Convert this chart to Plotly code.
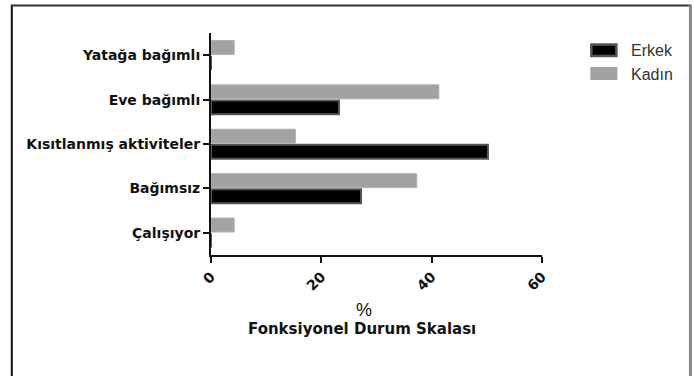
import plotly.graph_objects as go

categories = ["Çalışıyor", "Bağımsız", "Kısıtlanmış aktiviteler", "Eve bağımlı", "Yatağa bağımlı"]
erkek = [0, 27.2, 50.2, 23.2, 0]
kadin = [4.2, 37.3, 15.3, 41.3, 4.2]
x_ticks = [0, 20, 40, 60]
series_names = ["Erkek", "Kadın"]

FONT = "Liberation Sans, Arial, sans-serif"
BFONT = "DejaVu Sans, Liberation Sans, sans-serif"

ERK_FILL, ERK_LINE = "#000000", "#555555"
KAD_FILL, KAD_LINE = "#a2a2a4", "#b0b0b0"

fig = go.Figure()
fig.add_trace(go.Bar(
    y=categories, x=erkek, orientation="h", name=series_names[0],
    marker=dict(color=ERK_FILL, line=dict(color=ERK_LINE, width=2)),
))
fig.add_trace(go.Bar(
    y=categories, x=kadin, orientation="h", name=series_names[1],
    marker=dict(color=KAD_FILL, line=dict(color=KAD_LINE, width=1)),
))

W, H = 694, 376
PL, PR, PT, PB = 211, 541.7, 33, 255  # plot area in screenshot pixels
L, T = PL, PT
R = W - PR
B = H - PB
pw = PR - PL
ph = PB - PT

def px(xpix):
    return (xpix - PL) / pw

def py(ypix):
    return 1 - (ypix - PT) / ph

legend_shapes = [
    dict(type="rect", xref="paper", yref="paper", x0=px(591), x1=px(616), y0=py(44.5), y1=py(56),
         fillcolor=ERK_FILL, line=dict(color=ERK_LINE, width=2.5)),
    dict(type="rect", xref="paper", yref="paper", x0=px(590), x1=px(617), y0=py(67), y1=py(80),
         fillcolor=KAD_FILL, line=dict(width=0)),
]
legend_ann = [
    dict(text=series_names[0], xref="paper", yref="paper", x=px(629), y=py(50),
         showarrow=False, xanchor="left", yanchor="middle",
         font=dict(size=16, family=FONT, color="#333333")),
    dict(text=series_names[1], xref="paper", yref="paper", x=px(629), y=py(74),
         showarrow=False, xanchor="left", yanchor="middle",
         font=dict(size=16, family=FONT, color="#333333")),
]

fig.update_layout(
    width=W, height=H,
    margin=dict(l=L, r=R, t=T, b=B, autoexpand=False),
    paper_bgcolor="white", plot_bgcolor="white",
    barmode="group", bargap=0.3, bargroupgap=0.1,
    font=dict(family=FONT, color="#111111"),
    showlegend=False,
    xaxis=dict(
        range=[0, 60], tickvals=x_ticks, ticktext=[str(v) for v in x_ticks],
        showgrid=False, zeroline=False, showline=True, linecolor="#111111", linewidth=2,
        ticks="outside", ticklen=6, tickwidth=2, tickcolor="#111111", automargin=False,
        tickangle=-45, tickfont=dict(size=14, family=BFONT, color="#111111", weight="bold"),
    ),
    yaxis=dict(
        type="category", categoryorder="array", categoryarray=categories,
        range=[-0.5, 4.5], automargin=False,
        showgrid=False, zeroline=False, showline=True, linecolor="#111111", linewidth=2,
        ticks="outside", ticklen=6, tickwidth=2, tickcolor="#111111",
        tickfont=dict(size=14, family=BFONT, color="#111111", weight="bold"),
    ),
    annotations=[
        dict(text="%", xref="paper", yref="paper", x=px(364), y=py(310),
             showarrow=False, font=dict(size=18, family=FONT, color="#111111"),
             xanchor="center", yanchor="middle"),
        dict(text="<b>Fonksiyonel Durum Skalası</b>", xref="paper", yref="paper",
             x=px(362), y=py(329), showarrow=False,
             font=dict(size=15, family=BFONT, color="#111111"),
             xanchor="center", yanchor="middle"),
    ] + legend_ann,
    shapes=[
        dict(type="line", xref="paper", yref="paper", x0=px(12), x1=px(12), y0=py(5), y1=py(380),
             line=dict(color="#111111", width=2)),
        dict(type="line", xref="paper", yref="paper", x0=px(11), x1=px(691), y0=py(5.5), y1=py(5.5),
             line=dict(color="#333333", width=2)),
        dict(type="line", xref="paper", yref="paper", x0=px(690), x1=px(690), y0=py(5), y1=py(380),
             line=dict(color="#888888", width=3)),
    ] + legend_shapes,
)

fig.write_html(
    "out.html",
    config={"displayModeBar": False},
    post_script="document.body.style.margin='0';document.body.style.overflow='hidden';",
)
